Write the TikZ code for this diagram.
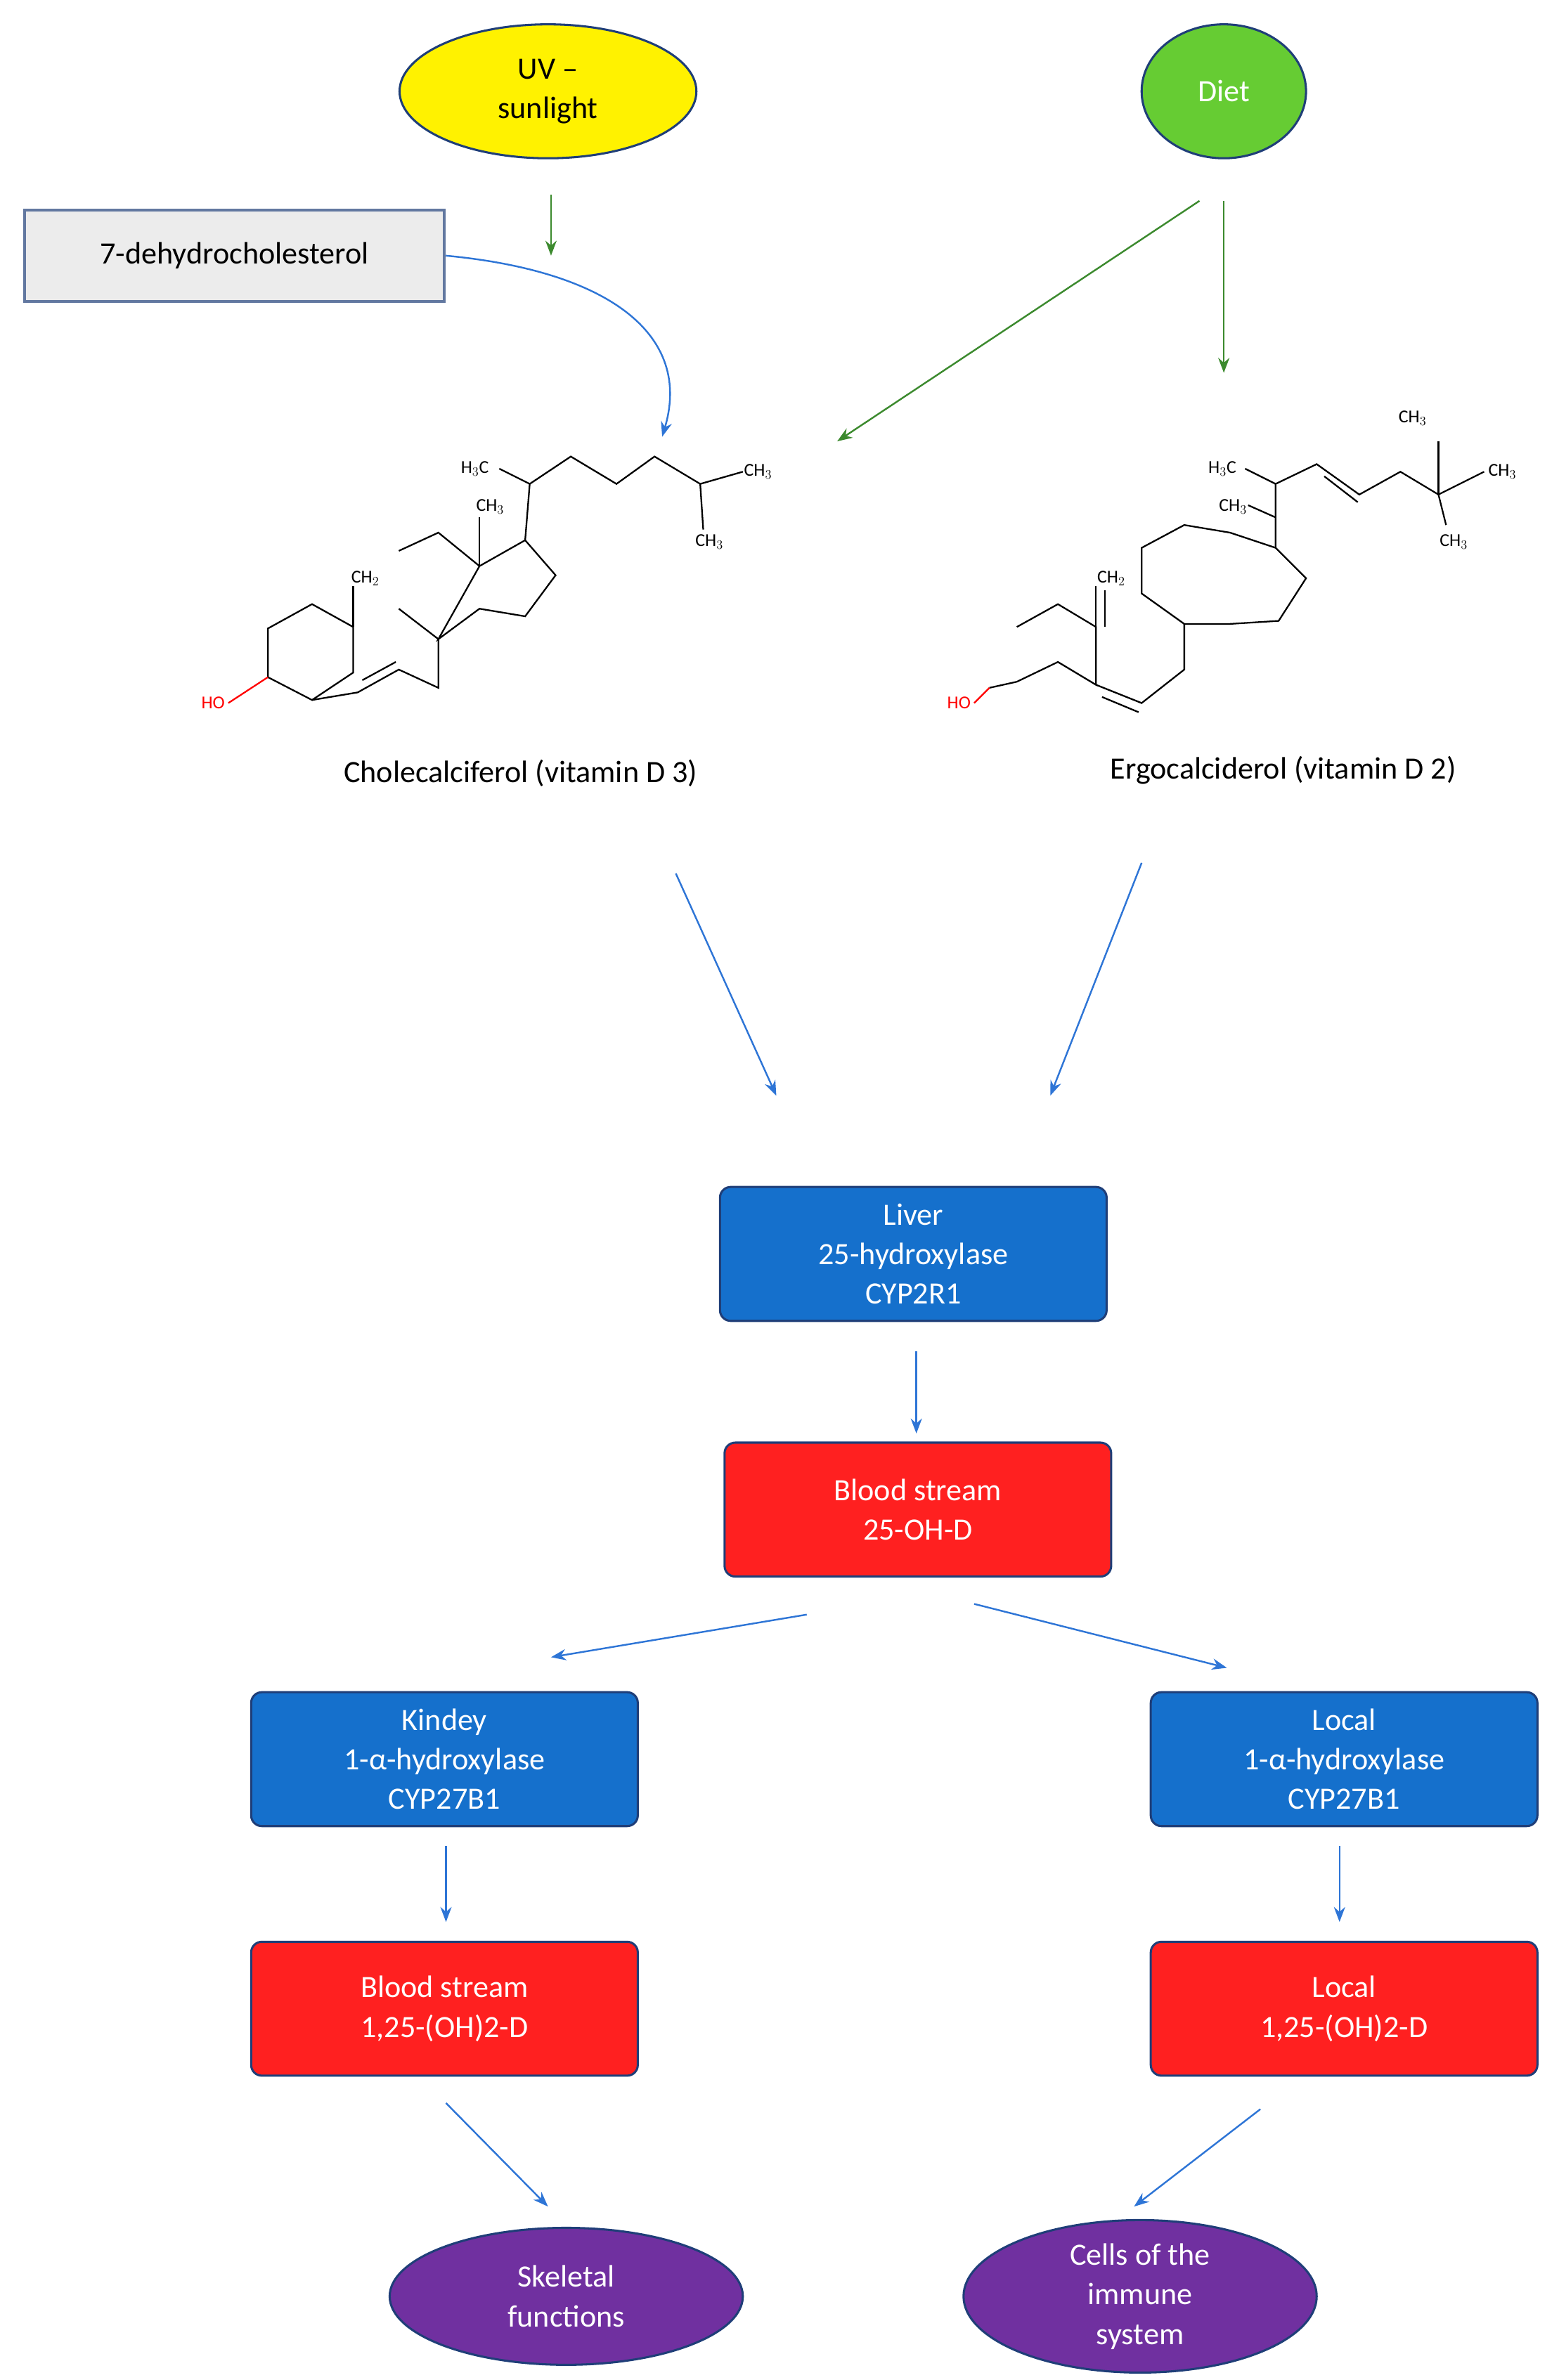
\documentclass[tikz,border=0pt]{standalone}
\usepackage{fontspec}
\setmainfont{Carlito}
\usetikzlibrary{shapes.geometric,arrows.meta}
\definecolor{bbox}{HTML}{1570CC}
\definecolor{rbox}{HTML}{FF2020}
\definecolor{purp}{HTML}{7030A0}
\definecolor{edge}{HTML}{1F3E78}
\definecolor{garr}{HTML}{3C8A2E}
\definecolor{barr}{HTML}{2E75D6}
\definecolor{dietg}{HTML}{66CC33}
\begin{document}
\begin{tikzpicture}[x=0.05cm,y=-0.05cm,
  txt/.style={font=\fontsize{29}{37}\selectfont,align=center},
  box/.style={txt,rounded corners=10pt,draw=edge,line width=2pt,text=white,minimum width=254*0.05cm,minimum height=88*0.05cm},
  blue box/.style={box,fill=bbox},
  red box/.style={box,fill=rbox},
  ell/.style={txt,ellipse,draw=edge,line width=2pt,inner sep=1pt},
  ga/.style={-{Stealth[length=14pt]},garr,line width=1.6pt},
  ba/.style={-{Stealth[length=14pt]},barr,line width=1.6pt},
  mol/.style={line width=1.5pt,black},
  lab/.style={font=\fontsize{17}{20}\selectfont}]
\useasboundingbox (0,0) rectangle (1024,1564);
\node[ell,fill=yellow,minimum width=195*0.05cm,minimum height=88*0.05cm] (uv) at (360,60) {UV –\\sunlight};
\node[ell,fill=dietg,minimum width=108*0.05cm,minimum height=88*0.05cm,text=white] (diet) at (804,60) {Diet};
\node[txt,draw=edge!70,line width=2.5pt,fill=gray!15,minimum width=276*0.05cm,minimum height=60*0.05cm] (dhc) at (154,168) {7-dehydrocholesterol};
\coordinate (uvs) at (362,128); \coordinate (uve) at (362,168);
\draw[ga] (uvs) -- (uve);
\coordinate (d3t) at (435,287);
\draw[ba] (dhc.east) .. controls (400,178) and (455,220) .. (d3t);
\coordinate (ds1) at (788,132); \coordinate (de1) at (550,290);
\coordinate (ds2) at (804,132); \coordinate (de2) at (804,245);
\draw[ga] (ds1) -- (de1);
\draw[ga] (ds2) -- (de2);
% vitamin D3
\draw[mol] (176,413)--(205,397)--(232,412)--(232,442)--(205,460)--(176,445)--cycle;
\draw[mol,red] (150,462)--(176,445);
\node[lab,red] at (140,462) {HO};
\draw[mol] (232,412)--(232,385); \node[lab] at (240,380) {CH$_2$};
\draw[mol] (205,460)--(235,455)--(262,440)--(288,452)--(288,420)--(262,400);
\draw[mol] (238,447)--(260,435);
\draw[mol] (288,420)--(315,400)--(345,405)--(365,378)--(345,355)--(315,372)--cycle;
\draw[mol] (315,372)--(288,350)--(262,362);
\draw[mol] (315,372)--(315,340);
\node[lab] at (322,333) {CH$_3$};
\draw[mol] (345,355)--(348,318)--(375,300)--(405,318)--(430,300)--(460,318)--(488,310);
\draw[mol] (460,318)--(462,348);
\draw[mol] (348,318)--(328,308);
\node[lab] at (312,308) {H$_3$C};
\node[lab] at (498,310) {CH$_3$};
\node[lab] at (466,356) {CH$_3$};
\node[txt] (d3) at (342,508) {Cholecalciferol (vitamin D 3)};
% vitamin D2
\draw[mol] (668,412)--(695,397)--(720,412)--(720,450)--(695,435)--(668,448);
\draw[mol] (668,448)--(650,452);
\draw[mol,red] (650,452)--(640,462);
\node[lab,red] at (630,462) {HO};
\draw[mol] (720,412)--(720,385); \draw[mol] (726,412)--(726,388);
\node[lab] at (730,380) {CH$_2$};
\draw[mol] (720,450)--(750,462)--(778,440)--(778,410);
\draw[mol] (724,458)--(748,468);
\draw[mol] (778,410)--(750,390)--(750,360)--(778,345)--(808,350)--(838,360)--(858,380)--(840,408)--(808,410)--(778,410);
\draw[mol] (838,360)--(838,318)--(865,305)--(893,325)--(920,310)--(945,325)--(975,310);
\draw[mol] (870,313)--(892,330);
\draw[mol] (838,318)--(818,308); \node[lab] at (803,308) {H$_3$C};
\draw[mol] (838,340)--(820,332); \node[lab] at (810,333) {CH$_3$};
\draw[mol] (945,325)--(945,290); \node[lab] at (928,275) {CH$_3$};
\node[lab] at (987,310) {CH$_3$};
\draw[mol] (945,325)--(950,345); \node[lab] at (955,356) {CH$_3$};
\node[txt] (d2) at (843,506) {Ergocalciderol (vitamin D 2)};
% flow
\coordinate (a1s) at (444,574); \coordinate (a1e) at (510,720);
\coordinate (a2s) at (750,567); \coordinate (a2e) at (690,720);
\draw[ba] (a1s)--(a1e); \draw[ba] (a2s)--(a2e);
\node[blue box] (liver) at (600,824) {Liver\\25-hydroxylase\\CYP2R1};
\node[red box] (blood) at (603,992) {Blood stream\\25-OH-D};
\draw[ba] (602,888)--(602,942);
\node[blue box] (kid) at (292,1156) {Kindey\\1-α-hydroxylase\\CYP27B1};
\node[blue box] (loc) at (883,1156) {Local\\1-α-hydroxylase\\CYP27B1};
\coordinate (b1s) at (530,1061); \coordinate (b1e) at (362,1089);
\coordinate (b2s) at (640,1054); \coordinate (b2e) at (806,1096);
\draw[ba] (b1s)--(b1e); \draw[ba] (b2s)--(b2e);
\node[red box] (bs2) at (292,1320) {Blood stream\\1,25-(OH)2-D};
\node[red box] (loc2) at (883,1320) {Local\\1,25-(OH)2-D};
\draw[ba] (293,1213)--(293,1263);
\draw[ba] (880,1213)--(880,1263);
\node[ell,fill=purp,text=white,minimum width=232*0.05cm,minimum height=90*0.05cm] (sk) at (372,1509) {Skeletal\\functions};
\node[ell,fill=purp,text=white,minimum width=232*0.05cm,minimum height=90*0.05cm] (im) at (749,1509) {Cells of the\\immune\\system};
\coordinate (c1s) at (293,1382); \coordinate (c1e) at (360,1450);
\coordinate (c2s) at (828,1386); \coordinate (c2e) at (745,1450);
\draw[ba] (c1s)--(c1e); \draw[ba] (c2s)--(c2e);
\end{tikzpicture}
\end{document}
